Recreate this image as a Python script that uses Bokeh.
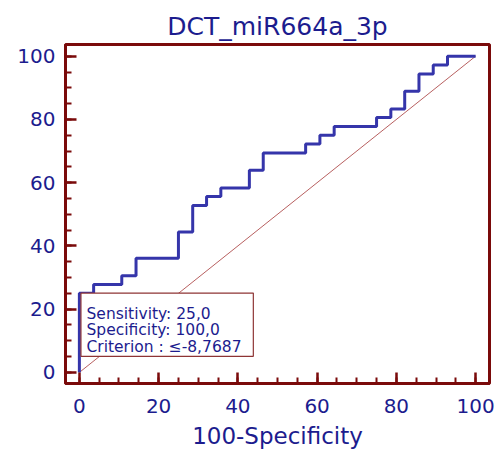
from bokeh.plotting import figure
from bokeh.models import Range1d, FixedTicker, BoxAnnotation, Label
from bokeh.embed import file_html
from bokeh.resources import INLINE

# ROC curve points (100-Specificity, Sensitivity)
fpr = [0, 0, 3.6, 10.7, 14.3, 25.0, 28.6, 32.1, 35.7, 42.9, 46.4, 57.1,
       60.7, 64.3, 75.0, 78.6, 82.1, 85.7, 89.3, 92.9, 100]
tpr = [0, 25.0, 27.8, 30.6, 36.1, 44.4, 52.8, 55.6, 58.3, 63.9, 69.4, 72.2,
       75.0, 77.8, 80.6, 83.3, 88.9, 94.4, 97.2, 100, 100]
ref_x = [0, 100]
ref_y = [0, 100]
major_ticks = [0, 20, 40, 60, 80, 100]
minor_ticks = list(range(0, 101, 5))
title_text = "DCT_miR664a_3p"
x_label = "100-Specificity"
info_lines = ["Sensitivity: 25,0", "Specificity: 100,0", "Criterion : \u2264-8,7687"]

MAROON = "#7A0A0A"
NAVY = "#1C1C8E"
CURVE = "#3535AA"
FONT = "DejaVu Sans"

p = figure(width=500, height=452, output_backend="svg", toolbar_location=None,
           x_range=Range1d(-3.5, 103.5), y_range=Range1d(-3.5, 103.7),
           min_border_left=65, min_border_right=11, min_border_top=44,
           min_border_bottom=69)

p.title.text = title_text
p.title.text_font = FONT
p.title.text_font_size = "25px"
p.title.text_font_style = "normal"
p.title.text_color = NAVY
p.title.align = "center"
p.title.offset = 0
p.title.standoff = 7

p.grid.visible = False
p.outline_line_color = MAROON
p.outline_line_width = 3
p.outline_line_alpha = 1
p.background_fill_color = "white"
p.border_fill_color = "white"

for ax in (p.xaxis[0], p.yaxis[0]):
    ax.ticker = FixedTicker(ticks=major_ticks, minor_ticks=minor_ticks)
    ax.axis_line_color = MAROON
    ax.axis_line_width = 3
    ax.major_tick_line_color = MAROON
    ax.major_tick_line_width = 2.5
    ax.major_tick_in = 11
    ax.major_tick_out = 0
    ax.minor_tick_line_color = MAROON
    ax.minor_tick_line_width = 2
    ax.minor_tick_in = 6
    ax.minor_tick_out = 0
    ax.major_label_text_font = FONT
    ax.major_label_text_font_size = "20px"
    ax.major_label_text_color = NAVY

p.yaxis[0].major_label_standoff = 10
p.xaxis[0].major_label_standoff = 15
p.xaxis[0].axis_label = x_label
p.xaxis[0].axis_label_text_font = FONT
p.xaxis[0].axis_label_text_font_size = "23px"
p.xaxis[0].axis_label_text_font_style = "normal"
p.xaxis[0].axis_label_text_color = NAVY
p.xaxis[0].axis_label_standoff = 7

# reference diagonal
p.line(ref_x, ref_y, line_color="#B86060", line_width=1)
# ROC curve
p.step(fpr, tpr, mode="after", line_color=CURVE, line_width=3)

# info box
box = BoxAnnotation(left=0.4, right=43.9, bottom=5.1, top=25.1,
                    fill_color="white", fill_alpha=1,
                    line_color="#8E3434", line_alpha=1, line_width=1.2,
                    level="overlay")
p.add_layout(box)
for i, t in enumerate(info_lines):
    lab = Label(x=1.8, y=18.5 - i * 5.2, text=t, text_font=FONT,
                text_font_size="15.5px", text_color=NAVY,
                text_baseline="alphabetic", level="overlay")
    p.add_layout(lab)

open("out.html", "w").write(file_html(p, INLINE))
